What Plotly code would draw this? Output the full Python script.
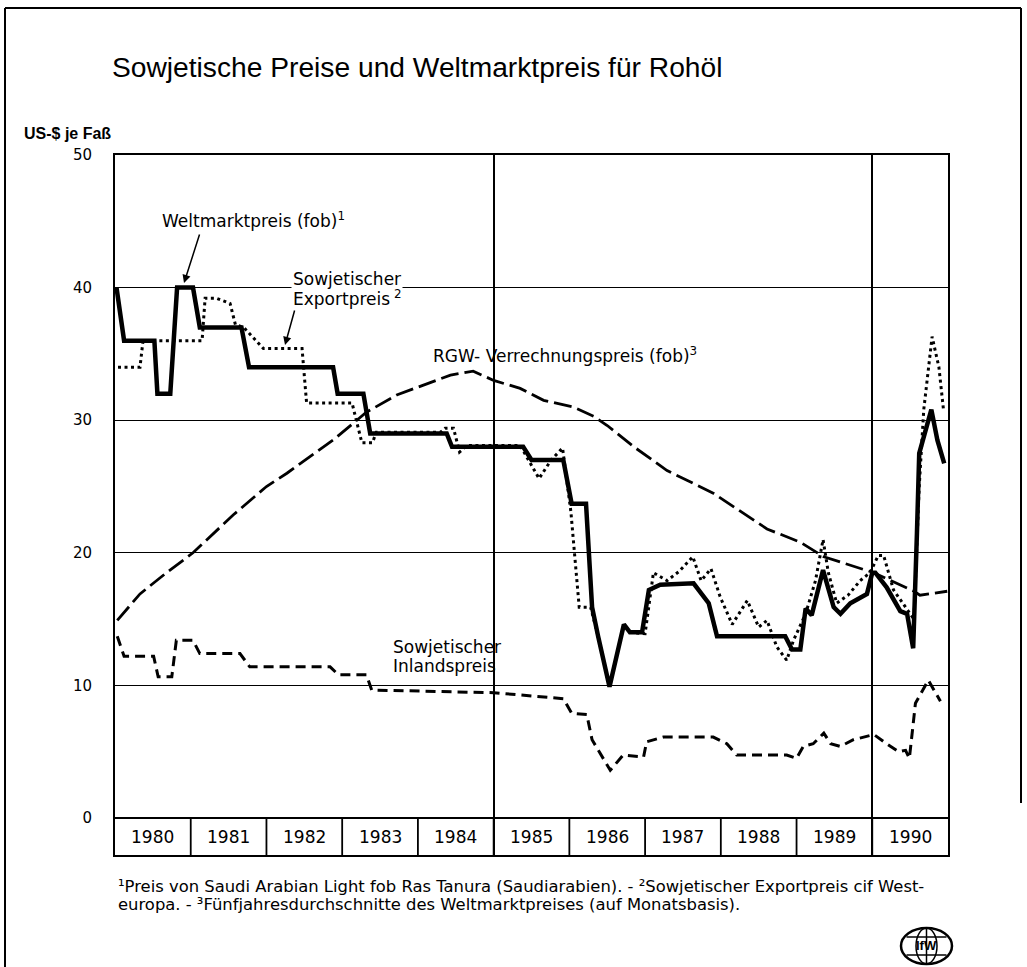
import plotly.graph_objects as go

# ---------------- data ----------------
years = list(range(1980, 1991))
year_labels = [str(y) for y in years]
y_ticks = [0, 10, 20, 30, 40, 50]

# Weltmarktpreis (fob) - thick solid line
welt_t = [1980.02, 1980.12, 1980.52, 1980.56, 1980.73, 1980.82, 1981.03, 1981.12, 1981.67, 1981.77,
          1982.88, 1982.94, 1983.28, 1983.37, 1984.38, 1984.45, 1985.39, 1985.50, 1985.92, 1986.03,
          1986.22, 1986.30, 1986.38, 1986.53, 1986.72, 1986.80, 1986.96, 1987.05, 1987.20, 1987.64,
          1987.84, 1987.95, 1988.85, 1988.94, 1989.05, 1989.12, 1989.20, 1989.35, 1989.49, 1989.58,
          1989.71, 1989.93, 1990.00, 1990.04, 1990.19, 1990.37, 1990.46, 1990.54, 1990.59, 1990.62,
          1990.78, 1990.86, 1990.95]
welt_v = [40, 36, 36, 32, 32, 40, 40, 37, 37, 34,
          34, 32, 32, 29, 29, 28, 28, 27, 27, 23.7,
          23.7, 15.9, 13.7, 9.9, 14.6, 14.0, 14.0, 17.2, 17.6, 17.7,
          16.2, 13.7, 13.7, 12.7, 12.7, 15.8, 15.3, 18.7, 15.9, 15.4,
          16.2, 16.9, 18.5, 18.5, 17.4, 15.6, 15.4, 12.8, 21.5, 27.5,
          30.8, 28.5, 26.75]

# Sowjetischer Exportpreis - dotted line
export_t = [1980.04, 1980.33, 1980.37, 1981.15, 1981.19, 1981.34, 1981.52, 1981.59, 1981.70, 1981.96,
            1982.47, 1982.53, 1983.13, 1983.26, 1983.40, 1983.45, 1984.30, 1984.36, 1984.47, 1984.55,
            1984.65, 1985.35, 1985.42, 1985.60, 1985.76, 1985.91, 1986.02, 1986.13, 1986.28, 1986.38,
            1986.53, 1986.72, 1986.80, 1987.00, 1987.11, 1987.29, 1987.45, 1987.63, 1987.74, 1987.87,
            1987.99, 1988.15, 1988.35, 1988.50, 1988.61, 1988.74, 1988.87, 1988.96, 1989.12, 1989.25,
            1989.35, 1989.42, 1989.53, 1989.68, 1989.84, 1989.97, 1990.08, 1990.15, 1990.28, 1990.48,
            1990.55, 1990.62, 1990.68, 1990.79, 1990.88, 1990.94]
export_v = [34, 34, 36, 36, 39.2, 39.2, 38.8, 37.2, 37.0, 35.4,
            35.4, 31.3, 31.3, 28.3, 28.3, 29.1, 29.1, 29.4, 29.4, 27.6,
            28.1, 28.1, 27.4, 25.6, 27.0, 27.9, 23.1, 15.9, 15.9, 13.7,
            9.9, 14.6, 14.0, 13.9, 18.5, 17.9, 18.6, 19.7, 17.9, 18.8,
            16.7, 14.6, 16.4, 14.4, 14.9, 12.9, 11.9, 13.4, 15.4, 17.9,
            21.0, 18.5, 16.2, 16.8, 17.9, 18.5, 19.8, 19.8, 17.2, 15.6,
            15.0, 25.0, 30.8, 36.3, 34.0, 30.8]

# RGW-Verrechnungspreis (fob) - long dashes
rgw_t = [1980.03, 1980.33, 1980.68, 1981.03, 1981.56, 1982.00, 1982.27, 1982.88, 1983.32, 1983.72,
         1984.43, 1984.73, 1985.00, 1985.35, 1985.66, 1986.05, 1986.32, 1986.50, 1986.85, 1987.29,
         1987.90, 1988.61, 1989.05, 1989.36, 1990.02, 1990.55, 1990.63, 1990.99]
rgw_v = [14.9, 16.9, 18.5, 20.0, 22.85, 25.0, 26.0, 28.5, 30.6, 31.9,
         33.4, 33.7, 33.0, 32.4, 31.5, 31.0, 30.3, 29.6, 28.0, 26.2,
         24.5, 21.8, 20.8, 19.7, 18.5, 17.1, 16.8, 17.1]

# Sowjetischer Inlandspreis - short dashes
inland_t = [1980.03, 1980.12, 1980.51, 1980.57, 1980.75, 1980.81, 1981.03, 1981.12, 1981.65, 1981.78,
            1982.84, 1982.95, 1983.32, 1983.39, 1985.00, 1985.92, 1986.03, 1986.23, 1986.30, 1986.54,
            1986.71, 1986.98, 1987.02, 1987.24, 1987.90, 1988.08, 1988.21, 1988.87, 1989.00, 1989.09,
            1989.22, 1989.36, 1989.45, 1989.58, 1989.75, 1990.02, 1990.19, 1990.35, 1990.44, 1990.49,
            1990.57, 1990.74, 1990.90]
inland_v = [13.7, 12.2, 12.2, 10.65, 10.65, 13.4, 13.4, 12.4, 12.4, 11.4,
            11.4, 10.8, 10.8, 9.65, 9.45, 9.0, 7.9, 7.8, 5.9, 3.6,
            4.75, 4.6, 5.75, 6.1, 6.1, 5.6, 4.75, 4.75, 4.5, 5.4,
            5.6, 6.4, 5.6, 5.4, 5.9, 6.3, 5.6, 5.0, 5.1, 4.5,
            8.65, 10.4, 8.8]

# ---------------- layout geometry ----------------
W, H = 1027, 967
L, R, T, B = 115, 948, 155, 855
X_RANGE = [1980, 1991]
Y_RANGE = [-2.79, 50]


def px(x):
    return (x - L) / (R - L)


def py(y):
    return (B - y) / (B - T)


FONT = "DejaVu Sans"
INK = "black"

fig = go.Figure()
fig.add_trace(go.Scatter(x=rgw_t, y=rgw_v, mode="lines", hoverinfo="skip",
                         line=dict(color=INK, width=2.8, dash="18px,6px")))
fig.add_trace(go.Scatter(x=inland_t, y=inland_v, mode="lines", hoverinfo="skip",
                         line=dict(color=INK, width=3, dash="10px,6px")))
fig.add_trace(go.Scatter(x=export_t, y=export_v, mode="lines", hoverinfo="skip",
                         line=dict(color=INK, width=3, dash="3px,3.5px")))
fig.add_trace(go.Scatter(x=welt_t, y=welt_v, mode="lines", hoverinfo="skip",
                         line=dict(color=INK, width=4.5)))

shapes = []
# zero line / top of year band
shapes.append(dict(type="line", xref="x", yref="y", x0=X_RANGE[0], x1=X_RANGE[1], y0=0, y1=0,
                   line=dict(color=INK, width=2)))
# year band dividers
for yr in years[1:]:
    shapes.append(dict(type="line", xref="x", yref="y", x0=yr, x1=yr, y0=Y_RANGE[0], y1=0,
                       line=dict(color=INK, width=1.8)))
# outer page frame
shapes.append(dict(type="line", xref="paper", yref="paper", x0=px(5), x1=px(5), y0=py(8), y1=py(967),
                   line=dict(color=INK, width=2)))
shapes.append(dict(type="line", xref="paper", yref="paper", x0=px(5), x1=px(1021), y0=py(8), y1=py(8),
                   line=dict(color=INK, width=2)))
shapes.append(dict(type="line", xref="paper", yref="paper", x0=px(1021), x1=px(1021), y0=py(8), y1=py(803),
                   line=dict(color=INK, width=2)))
# logo (globe)
shapes.append(dict(type="circle", xref="paper", yref="paper", x0=px(901), x1=px(952), y0=py(964), y1=py(928),
                   line=dict(color=INK, width=2.5)))
shapes.append(dict(type="circle", xref="paper", yref="paper", x0=px(916), x1=px(937), y0=py(964), y1=py(928),
                   line=dict(color=INK, width=1.5)))
shapes.append(dict(type="line", xref="paper", yref="paper", x0=px(926.5), x1=px(926.5), y0=py(964), y1=py(928),
                   line=dict(color=INK, width=1.5)))
for yy, half in ((937, 20), (955, 20)):
    shapes.append(dict(type="line", xref="paper", yref="paper", x0=px(926.5 - half), x1=px(926.5 + half),
                       y0=py(yy), y1=py(yy), line=dict(color=INK, width=1.5)))

annotations = []
# year labels inside the band
for yr, lab in zip(years, year_labels):
    annotations.append(dict(x=yr + 0.5, y=Y_RANGE[0] / 2, xref="x", yref="y", text=lab, showarrow=False,
                            font=dict(family=FONT, size=17, color=INK)))


def txt(text, x, y, size=17, family=FONT, xanchor="left", **kw):
    d = dict(text=text, x=px(x), y=py(y), xref="paper", yref="paper", showarrow=False,
             xanchor=xanchor, yanchor="middle", font=dict(family=family, size=size, color=INK))
    d.update(kw)
    return d


annotations += [
    txt("Sowjetische Preise und Weltmarktpreis für Rohöl", 110, 67, size=28.2, family="Liberation Sans"),
    txt("<b>US-$ je Faß</b>", 22, 134, size=16, family="Liberation Sans"),
    txt("Weltmarktpreis (fob)<sup>1</sup>", 160, 220),
    txt("Sowjetischer", 291, 279, bgcolor="white"),
    txt("Exportpreis<sup> 2</sup>", 291, 298),
    txt("RGW- Verrechnungspreis (fob)<sup>3</sup>", 431, 355),
    txt("Sowjetischer", 391, 647),
    txt("Inlandspreis", 391, 666),
    txt("¹Preis von Saudi Arabian Light fob Ras Tanura (Saudiarabien). - "
        "²Sowjetischer Exportpreis cif West-", 116, 886, size=16.4),
    txt("europa. - ³Fünfjahresdurchschnitte des Weltmarktpreises (auf Monatsbasis).",
        116, 904, size=16.4),
    txt("<b>IfW</b>", 926.5, 946, size=13, family="Liberation Sans", xanchor="center"),
]
# arrows
annotations.append(dict(x=px(184), y=py(283), xref="paper", yref="paper", text="", showarrow=True,
                        ax=16, ay=-50, arrowhead=2, arrowsize=1.1, arrowwidth=1.5, arrowcolor=INK))
annotations.append(dict(x=px(285), y=py(345), xref="paper", yref="paper", text="", showarrow=True,
                        ax=10, ay=-36, arrowhead=2, arrowsize=1.1, arrowwidth=1.5, arrowcolor=INK))

fig.update_layout(
    width=W, height=H,
    margin=dict(l=L, r=W - R, t=T, b=H - B, pad=0),
    paper_bgcolor="white", plot_bgcolor="white",
    showlegend=False,
    font=dict(family=FONT, color=INK),
    shapes=shapes,
    annotations=annotations,
    xaxis=dict(range=X_RANGE, tickvals=[1985, 1990], showticklabels=False, ticks="",
               showgrid=True, gridcolor=INK, gridwidth=1.8, zeroline=False,
               showline=True, mirror=True, linecolor=INK, linewidth=2, fixedrange=True),
    yaxis=dict(range=Y_RANGE, tickvals=y_ticks, ticks="", ticklabelstandoff=18,
               tickfont=dict(family=FONT, size=15, color=INK),
               showgrid=True, gridcolor=INK, gridwidth=1.2, zeroline=False,
               showline=True, mirror=True, linecolor=INK, linewidth=2, fixedrange=True),
)

fig.write_html("out.html", config={"displayModeBar": False},
               post_script="document.body.style.margin='0px';")
